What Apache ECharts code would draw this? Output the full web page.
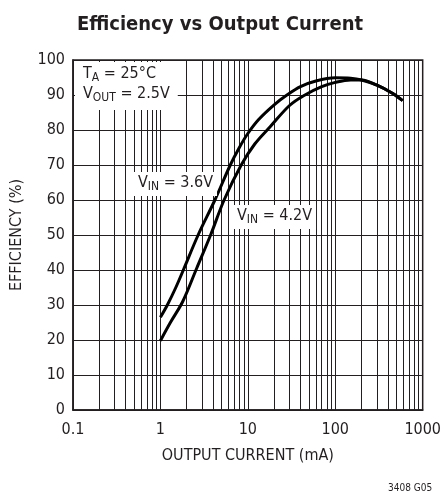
<!DOCTYPE html>
<html>
<head>
<meta charset="utf-8">
<script src="https://cdn.jsdelivr.net/npm/echarts@6/dist/echarts.min.js"></script>
<style>
  html, body { margin: 0; padding: 0; background: #fff; }
  #chart { width: 444px; height: 491px; }
</style>
</head>
<body>
<div id="chart"></div>
<script>
// efficiency curves, [mA, %]
var vin36 = [[1, 26.5], [1.2, 30], [1.5, 35], [1.83, 40], [2.7, 50], [4.2, 60], [6.3, 70],
  [8, 75], [10, 79], [13.3, 83], [20, 87.2], [28, 90], [40, 92.4], [60, 94], [100, 94.9],
  [150, 94.8], [200, 94.3], [300, 92.8], [450, 90.5], [590, 88.4]];
var vin42 = [[1, 19.8], [1.3, 25], [1.8, 31], [2.6, 40.5], [3.75, 50], [5.35, 60], [8.4, 70],
  [12, 76], [18.1, 81], [30, 87], [45, 90], [70, 92.4], [100, 93.6], [150, 94.3],
  [200, 94.3], [300, 92.8], [450, 90.5], [590, 88.4]];
var minorLines = [0.2, 0.3, 0.4, 0.5, 0.6, 0.7, 0.8, 0.9, 2, 3, 4, 5, 6, 7, 8, 9,
  20, 30, 40, 50, 60, 70, 80, 90, 200, 300, 400, 500, 600, 700, 800, 900];

var chartDom = document.getElementById('chart');
var myChart = echarts.init(chartDom);
var font = "'Liberation Sans Narrow', 'DejaVu Sans Condensed', sans-serif";
var ink = '#231f20';

var subRich = {
  n: { fontFamily: font, fontSize: 16, fontWeight: 'normal', color: ink },
  s: { fontFamily: font, fontSize: 12, fontWeight: 'normal', color: ink, padding: [8, 0, 0, 0] }
};

var option = {
  animation: false,
  textStyle: { fontFamily: font, color: ink },
  title: [
    {
      text: 'Efficiency vs Output Current',
      left: 215, top: 10, textAlign: 'center',
      textStyle: { fontFamily: font, fontSize: 20, fontWeight: 'bold', color: ink }
    },
    {
      text: '{n|T}{s|A}{n| = 25°C}\n{n|V}{s|OUT}{n| = 2.5V}',
      left: 75, top: 62, padding: [2, 8, 6, 8], backgroundColor: '#fff',
      textStyle: { rich: subRich, lineHeight: 20 }
    },
    {
      text: '{n|V}{s|IN}{n| = 3.6V}',
      left: 134, top: 170, padding: [3, 4, 3, 4], backgroundColor: '#fff',
      textStyle: { rich: subRich }
    },
    {
      text: '{n|V}{s|IN}{n| = 4.2V}',
      left: 233, top: 203, padding: [3, 4, 3, 4], backgroundColor: '#fff',
      textStyle: { rich: subRich }
    },
    {
      text: '3408 G05',
      left: 383, top: 478,
      textStyle: { fontFamily: font, fontSize: 10, fontWeight: 'normal', color: ink }
    }
  ],
  grid: {
    left: 73, right: 19, top: 60, bottom: 81,
    show: true, borderColor: ink, borderWidth: 1.5, backgroundColor: 'transparent'
  },
  xAxis: {
    type: 'log', logBase: 10, min: 0.1, max: 1000,
    name: 'OUTPUT CURRENT (mA)', nameLocation: 'middle', nameGap: 38,
    nameTextStyle: { fontFamily: font, fontSize: 16, color: ink },
    axisLine: { lineStyle: { color: ink, width: 1.5 } },
    axisTick: { show: false },
    axisLabel: {
      fontFamily: font, fontSize: 16, color: ink, margin: 12,
      formatter: function (v) { return v < 1 ? v.toFixed(1) : String(Math.round(v)); }
    },
    splitLine: { show: true, lineStyle: { color: ink, width: 1 } },
    minorTick: { show: false },
    minorSplitLine: { show: false }
  },
  yAxis: {
    type: 'value', min: 0, max: 100, interval: 10,
    name: 'EFFICIENCY (%)', nameLocation: 'middle', nameGap: 48, nameRotate: 90,
    nameTextStyle: { fontFamily: font, fontSize: 16, color: ink },
    axisLine: { show: true, lineStyle: { color: ink, width: 1.5 } },
    axisTick: { show: false },
    axisLabel: { fontFamily: font, fontSize: 16, color: ink, margin: 8 },
    splitLine: { show: true, lineStyle: { color: ink, width: 1 } }
  },
  series: [
    {
      name: 'grid', type: 'line', data: [], silent: true,
      markLine: {
        silent: true, symbol: 'none', animation: false,
        label: { show: false },
        lineStyle: { color: ink, width: 1, type: 'solid' },
        data: minorLines.map(function (v) { return { xAxis: v }; })
      }
    },
    {
      name: 'VIN = 3.6V', type: 'line', data: vin36, smooth: 0.35,
      showSymbol: false, lineStyle: { color: '#000', width: 3 }, z: 5
    },
    {
      name: 'VIN = 4.2V', type: 'line', data: vin42, smooth: 0.35,
      showSymbol: false, lineStyle: { color: '#000', width: 3 }, z: 5
    }
  ]
};
option && myChart.setOption(option);
</script>
</body>
</html>
